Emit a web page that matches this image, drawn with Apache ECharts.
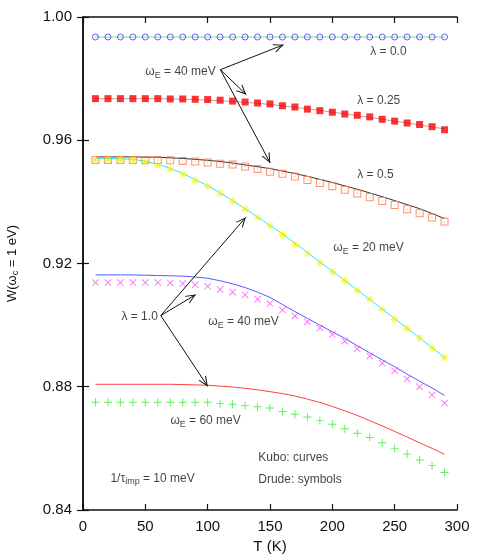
<!DOCTYPE html>
<html>
<head>
<meta charset="utf-8">
<script src="https://cdn.jsdelivr.net/npm/echarts@6/dist/echarts.min.js"></script>
<style>
  html, body { margin: 0; padding: 0; background: #fff; }
  #chart { width: 485px; height: 554px; }
</style>
</head>
<body>
<div id="chart"></div>
<script>
// temperatures (K)
const temps = [10, 20, 30, 40, 50, 60, 70, 80, 90, 100, 110, 120, 130, 140, 150,
  160, 170, 180, 190, 200, 210, 220, 230, 240, 250, 260, 270, 280, 290]

// lambda = 0.0 (Kubo curve + Drude circles, they coincide)
const lam00Kubo = [0.9935, 0.9935, 0.9935, 0.9935, 0.9935, 0.9935, 0.9935, 0.9935, 0.9935, 0.9935,
  0.9935, 0.9935, 0.9935, 0.9935, 0.9935, 0.9935, 0.9935, 0.9935, 0.9935, 0.9935,
  0.9935, 0.9935, 0.9935, 0.9935, 0.9935, 0.9935, 0.9935, 0.9935, 0.9935]
const lam00Drude = [0.9935, 0.9935, 0.9935, 0.9935, 0.9935, 0.9935, 0.9935, 0.9935, 0.9935, 0.9935,
  0.9935, 0.9935, 0.9935, 0.9935, 0.9935, 0.9935, 0.9935, 0.9935, 0.9935, 0.9935,
  0.9935, 0.9935, 0.9935, 0.9935, 0.9935, 0.9935, 0.9935, 0.9935, 0.9935]

// lambda = 0.25, wE = 40 meV
const lam025Kubo = [0.9735, 0.9735, 0.9735, 0.9735, 0.9735, 0.9735, 0.9734, 0.9733, 0.9732, 0.9730,
  0.9728, 0.9726, 0.9723, 0.9720, 0.9716, 0.9712, 0.9707, 0.9702, 0.9697, 0.9691,
  0.9686, 0.9680, 0.9674, 0.9668, 0.9662, 0.9656, 0.9650, 0.9643, 0.9637]
const lam025Drude = [0.9735, 0.9735, 0.9735, 0.9735, 0.9735, 0.9735, 0.9734, 0.9734, 0.9733, 0.9732,
  0.9730, 0.9727, 0.9724, 0.9721, 0.9718, 0.9712, 0.9708, 0.9701, 0.9696, 0.9691,
  0.9685, 0.9681, 0.9676, 0.9668, 0.9662, 0.9656, 0.9651, 0.9644, 0.9634]

// lambda = 0.5, wE = 40 meV
const lam05Kubo = [0.9546, 0.9546, 0.9546, 0.9546, 0.9545, 0.9545, 0.9543, 0.9541, 0.9538, 0.9535,
  0.9531, 0.9526, 0.9520, 0.9514, 0.9508, 0.9500, 0.9492, 0.9483, 0.9473, 0.9463,
  0.9452, 0.9441, 0.9429, 0.9417, 0.9404, 0.9391, 0.9378, 0.9362, 0.9346]
const lam05Drude = [0.9536, 0.9536, 0.9536, 0.9536, 0.9536, 0.9536, 0.9535, 0.9533, 0.9531, 0.9528,
  0.9524, 0.9521, 0.9515, 0.9507, 0.9498, 0.9491, 0.9482, 0.9471, 0.9461, 0.9451,
  0.9439, 0.9427, 0.9415, 0.9403, 0.9390, 0.9376, 0.9363, 0.9349, 0.9336]

// lambda = 1.0, wE = 20 meV
const w20Kubo = [0.9541, 0.9541, 0.9540, 0.9538, 0.9532, 0.9522, 0.9509, 0.9492, 0.9473, 0.9452,
  0.9429, 0.9404, 0.9378, 0.9351, 0.9324, 0.9296, 0.9266, 0.9236, 0.9205, 0.9175,
  0.9145, 0.9114, 0.9083, 0.9052, 0.9021, 0.8990, 0.8958, 0.8927, 0.8895]
const w20Drude = [0.9536, 0.9536, 0.9536, 0.9535, 0.9528, 0.9519, 0.9506, 0.9490, 0.9470, 0.9451,
  0.9427, 0.9402, 0.9376, 0.9349, 0.9323, 0.9294, 0.9262, 0.9232, 0.9202, 0.9173,
  0.9144, 0.9113, 0.9083, 0.9051, 0.9019, 0.8989, 0.8958, 0.8926, 0.8894]

// lambda = 1.0, wE = 40 meV
const w40Kubo = [0.9163, 0.9163, 0.9163, 0.9163, 0.9162, 0.9161, 0.9160, 0.9159, 0.9156, 0.9152,
  0.9144, 0.9134, 0.9122, 0.9107, 0.9090, 0.9067, 0.9044, 0.9022, 0.9000, 0.8978,
  0.8957, 0.8933, 0.8910, 0.8887, 0.8865, 0.8841, 0.8818, 0.8796, 0.8772]
const w40Drude = [0.9138, 0.9138, 0.9138, 0.9138, 0.9138, 0.9138, 0.9137, 0.9135, 0.9131, 0.9126,
  0.9116, 0.9107, 0.9098, 0.9084, 0.9070, 0.9049, 0.9030, 0.9011, 0.8991, 0.8970,
  0.8948, 0.8923, 0.8900, 0.8876, 0.8852, 0.8825, 0.8800, 0.8774, 0.8747]

// lambda = 1.0, wE = 60 meV
const w60Kubo = [0.8808, 0.8808, 0.8808, 0.8808, 0.8808, 0.8808, 0.8808, 0.8807, 0.8806, 0.8805,
  0.8802, 0.8799, 0.8795, 0.8790, 0.8784, 0.8778, 0.8770, 0.8760, 0.8749, 0.8736,
  0.8722, 0.8707, 0.8690, 0.8673, 0.8655, 0.8637, 0.8618, 0.8600, 0.8581]
const w60Drude = [0.8750, 0.8750, 0.8750, 0.8750, 0.8750, 0.8750, 0.8750, 0.8750, 0.8750, 0.8750,
  0.8746, 0.8743, 0.8738, 0.8735, 0.8731, 0.8720, 0.8711, 0.8702, 0.8690, 0.8678,
  0.8664, 0.8649, 0.8635, 0.8618, 0.8600, 0.8582, 0.8562, 0.8544, 0.8522]

// arrows: [fromT, fromW, toT, toW]
const arrows = [
  [110.2, 0.9829, 160.9, 0.9910],
  [110.2, 0.9829, 131.0, 0.9748],
  [110.2, 0.9829, 150.2, 0.9526],
  [62.4, 0.9031, 130.6, 0.9350],
  [62.4, 0.9031, 90.5, 0.9099],
  [62.4, 0.9031, 100.1, 0.8801]
]

// text notes: [T, W, text, side]
const notes = [
  [230.4, 0.9886, '{n|λ = 0.0}', 'right'],
  [220.0, 0.9730, '{n|λ = 0.25}', 'right'],
  [220.0, 0.9489, '{n|λ = 0.5}', 'right'],
  [200.8, 0.9250, '{n|ω}{s|E}{n| = 20 meV}', 'right'],
  [50.0, 0.9821, '{n|ω}{s|E}{n| = 40 meV}', 'right'],
  [60.0, 0.9029, '{n|λ = 1.0}', 'left'],
  [100.5, 0.9010, '{n|ω}{s|E}{n| = 40 meV}', 'right'],
  [70.1, 0.8689, '{n|ω}{s|E}{n| = 60 meV}', 'right'],
  [140.6, 0.8569, '{n|Kubo: curves}', 'right'],
  [140.6, 0.8497, '{n|Drude: symbols}', 'right'],
  [22.0, 0.8503, '{n|1/τ}{s|imp}{n| = 10 meV}', 'right']
]

const font = 'Liberation Sans, Arial, sans-serif'

const plusPath = 'path://M0,4.4 L10,4.4 L10,5.6 L0,5.6 Z M4.4,0 L5.6,0 L5.6,10 L4.4,10 Z'
const crossPath = 'path://M0,0.9 L0.9,0 L10,9.1 L9.1,10 Z M9.1,0 L10,0.9 L0.9,10 L0,9.1 Z'
const starPath = 'path://M0,4.4 L10,4.4 L10,5.6 L0,5.6 Z M4.4,0 L5.6,0 L5.6,10 L4.4,10 Z' +
  ' M1,1.8 L1.8,1 L9,8.2 L8.2,9 Z M8.2,1 L9,1.8 L1.8,9 L1,8.2 Z'
const boxPath = 'path://M0,0 L10,0 L10,10 L0,10 Z M1.3,1.3 L1.3,8.7 L8.7,8.7 L8.7,1.3 Z' +
  ' M4.4,4.4 L5.6,4.4 L5.6,5.6 L4.4,5.6 Z'
// open arrow head whose tip sits at the centre of its 20x20 box
const arrowHead = 'path://M10,0 L10.01,0 L10,0.01 Z M0,10 L0.01,10 L0,10.01 Z M20,10 L19.99,10 L20,10.01 Z' +
  ' M10,10 L14.5,20 L13.4,20 L10,12.4 L6.6,20 L5.5,20 Z'

const pairs = arr => temps.map((t, i) => [t, arr[i]])

function curve(name, arr, color) {
  return {
    name: name,
    type: 'line',
    data: pairs(arr),
    showSymbol: false,
    symbol: 'none',
    lineStyle: {color: color, width: 1},
    z: 2
  }
}

function dots(name, arr, symbol, size, color, hollow) {
  return {
    name: name,
    type: 'scatter',
    data: pairs(arr),
    symbol: symbol,
    symbolSize: size,
    itemStyle: hollow
      ? {color: 'rgba(0,0,0,0)', borderColor: color, borderWidth: 1}
      : {color: color},
    z: 3
  }
}

const axisCommon = {
  type: 'value',
  axisLine: {show: true, lineStyle: {color: '#111', width: 1.5}},
  axisTick: {show: true, inside: true, length: 6, lineStyle: {color: '#111', width: 1.2}},
  splitLine: {show: false}
}

const options = {
  animation: false,
  backgroundColor: '#fff',
  textStyle: {fontFamily: font},
  grid: {left: 83, right: 28, top: 17, bottom: 44, containLabel: false, outerBoundsMode: 'none'},
  xAxis: [
    Object.assign({}, axisCommon, {
      min: 0, max: 300, interval: 50,
      position: 'bottom',
      name: 'T (K)',
      nameLocation: 'middle',
      nameGap: 29,
      nameTextStyle: {fontSize: 15, color: '#111', fontFamily: font},
      axisLabel: {fontSize: 15, color: '#111', margin: 9, fontFamily: font}
    }),
    Object.assign({}, axisCommon, {
      min: 0, max: 300, interval: 50,
      position: 'top',
      axisLabel: {show: false}
    })
  ],
  yAxis: [
    Object.assign({}, axisCommon, {
      min: 0.84, max: 1.0, interval: 0.04,
      position: 'left',
      name: '{n|W(ω}{s|c}{n| = 1 eV)}',
      nameLocation: 'middle',
      nameGap: 63,
      nameTextStyle: {
        fontFamily: font,
        color: '#111',
        rich: {
          n: {fontSize: 13, lineHeight: 16, color: '#111', fontFamily: font},
          s: {fontSize: 9, lineHeight: 9, verticalAlign: 'bottom', color: '#111', fontFamily: font}
        }
      },
      axisLabel: {
        fontSize: 15, color: '#111', margin: 11, fontFamily: font,
        formatter: v => v.toFixed(2)
      }
    }),
    Object.assign({}, axisCommon, {
      min: 0.84, max: 1.0, interval: 0.04,
      position: 'right',
      axisLabel: {show: false}
    })
  ],
  series: [
    Object.assign(curve('lam00 Kubo', lam00Kubo, '#7fe07f'), {
      markLine: {
        silent: true,
        symbol: ['none', arrowHead],
        symbolSize: 20,
        label: {show: false},
        lineStyle: {color: '#111', width: 1, type: 'solid'},
        emphasis: {disabled: true},
        data: arrows.map(a => [{coord: [a[0], a[1]]}, {coord: [a[2], a[3]]}])
      }
    }),
    curve('lam025 Kubo', lam025Kubo, '#aaaaaa'),
    curve('lam05 Kubo', lam05Kubo, '#333333'),
    curve('w20 Kubo', w20Kubo, '#33e8e8'),
    curve('w40 Kubo', w40Kubo, '#5a5aff'),
    curve('w60 Kubo', w60Kubo, '#ff4040'),
    dots('lam00 Drude', lam00Drude, 'circle', 6, '#3a3aff', true),
    dots('lam025 Drude', lam025Drude, 'rect', 7, '#ff0000', false),
    dots('lam05 Drude', lam05Drude, boxPath, 8, '#ff7a4a', false),
    dots('w20 Drude', w20Drude, starPath, 8, '#f2f200', false),
    dots('w40 Drude', w40Drude, crossPath, 7, '#ff44ff', false),
    dots('w60 Drude', w60Drude, plusPath, 8, '#33ee33', false),
    {
      name: 'notes',
      type: 'scatter',
      silent: true,
      symbolSize: 0,
      z: 5,
      data: notes.map(n => ({
        value: [n[0], n[1]],
        label: {
          show: true,
          position: n[3],
          distance: 0,
          formatter: n[2],
          rich: {
            n: {fontSize: 12, lineHeight: 16, color: '#111', fontFamily: font},
            s: {fontSize: 9, lineHeight: 9, verticalAlign: 'bottom', color: '#111', fontFamily: font}
          }
        }
      }))
    }
  ]
}

const chart = echarts.init(document.getElementById('chart'))
chart.setOption(options)
</script>
</body>
</html>
